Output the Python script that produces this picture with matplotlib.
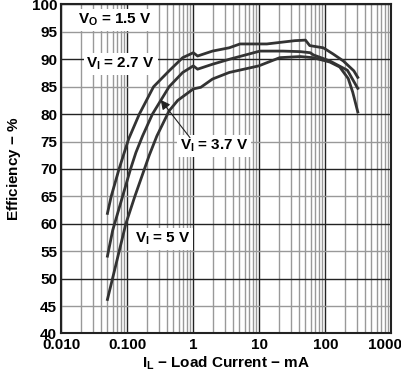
import numpy as np
import matplotlib
matplotlib.use('Agg')
import matplotlib.pyplot as plt
from matplotlib.transforms import ScaledTranslation

plt.rcParams['font.family'] = ['Liberation Sans', 'DejaVu Sans']
plt.rcParams['font.weight'] = 'bold'
plt.rcParams['mathtext.fontset'] = 'custom'
plt.rcParams['mathtext.rm'] = 'Liberation Sans:bold'
plt.rcParams['mathtext.it'] = 'Liberation Sans:bold'
plt.rcParams['mathtext.bf'] = 'Liberation Sans:bold'

# curves (load current in mA, efficiency in %)
x27 = [0.05, 0.057, 0.075, 0.09, 0.105, 0.152, 0.25, 0.43, 0.69, 1.0, 1.16, 1.95, 3.5, 5.1, 13, 34.5, 50, 58, 93, 130, 187, 270, 310]
y27 = [61.9, 65.0, 70.0, 73.0, 75.5, 80.0, 85.0, 87.9, 90.3, 91.2, 90.6, 91.5, 92.1, 92.8, 92.8, 93.4, 93.5, 92.5, 92.1, 91.0, 89.7, 87.9, 86.7]

x37 = [0.05, 0.06, 0.112, 0.135, 0.17, 0.24, 0.43, 0.69, 1.0, 1.16, 1.95, 3.5, 10.2, 22.7, 41.6, 59, 66, 117, 216, 310]
y37 = [54.1, 58.8, 70.0, 73.0, 76.0, 80.0, 85.0, 87.6, 88.8, 88.2, 89.1, 90.0, 91.5, 91.5, 91.4, 91.2, 90.8, 89.7, 88.0, 84.7]

x5 = [0.05, 0.095, 0.13, 0.215, 0.28, 0.43, 0.58, 1.0, 1.3, 1.95, 3.5, 9.8, 20.4, 41.6, 65, 117, 165, 222, 260, 310]
y5 = [46.2, 60.0, 65.0, 72.5, 76.0, 80.6, 82.5, 84.6, 84.9, 86.4, 87.6, 88.8, 90.3, 90.5, 90.3, 89.5, 88.6, 86.5, 84.0, 80.4]

xticks = [0.01, 0.1, 1, 10, 100, 1000]
xlabels = ['0.010', '0.100', '1', '10', '100', '1000']
yticks = list(range(40, 101, 5))

fig = plt.figure(figsize=(4.02, 3.73), dpi=100)
ax = fig.add_axes([0.1525, 0.106, 0.821, 0.882])

ax.set_xscale('log')
ax.set_xlim(0.01, 1000)
ax.set_ylim(40, 100)

# grid
minors = [m * 10.0**d for d in range(-2, 3) for m in range(2, 10)]
for v in minors:
    ax.axvline(v, color='#999999', lw=1.0, zorder=1)
for v in xticks:
    ax.axvline(v, color='#222222', lw=1.0, zorder=1)
for v in yticks:
    c = '#222222' if v % 10 == 0 else '#999999'
    ax.axhline(v, color=c, lw=1.0, zorder=1)

lc = '#333333'
ax.plot(x27, y27, color=lc, lw=2, zorder=3)
ax.plot(x37, y37, color=lc, lw=2, zorder=3)
ax.plot(x5, y5, color=lc, lw=2, zorder=3)

ax.set_xticks(xticks)
ax.set_xticklabels(xlabels)
ax.set_xticks([], minor=True)
ax.set_yticks(yticks)
ax.tick_params(length=0, labelsize=11, pad=3)
for lab in ax.get_xticklabels() + ax.get_yticklabels():
    lab.set_fontweight('bold')
last = ax.get_xticklabels()[-1]
last.set_transform(last.get_transform() + ScaledTranslation(-0.06, 0, fig.dpi_scale_trans))
for s in ax.spines.values():
    s.set_color('#222222')
    s.set_linewidth(1.5)

box = dict(facecolor='white', edgecolor='none', pad=2)
ax.text(0.018, 97.2, r'$V_O$ = 1.5 V', fontsize=11, fontweight='bold', bbox=box, zorder=4, va='center')
ax.text(0.024, 89.2, r'$V_I$ = 2.7 V', fontsize=11, fontweight='bold', bbox=box, zorder=4, va='center')
ax.text(0.63, 74.2, r'$V_I$ = 3.7 V', fontsize=11, fontweight='bold', bbox=box, zorder=4, va='center')
ax.text(0.13, 57.2, r'$V_I$ = 5 V', fontsize=11, fontweight='bold', bbox=box, zorder=4, va='center')
ax.annotate('', xy=(0.32, 82.6), xytext=(0.89, 75.7),
            arrowprops=dict(arrowstyle='-|>', color='#222222', lw=0.8, mutation_scale=14,
                            shrinkA=0, shrinkB=0), zorder=4)

ax.set_xlabel(r'$I_L$ $-$ Load Current $-$ mA', fontsize=11, fontweight='bold', labelpad=2)
ax.set_ylabel(r'Efficiency $-$ %', fontsize=11, fontweight='bold', labelpad=6)

fig.savefig('out.png', dpi=100)
